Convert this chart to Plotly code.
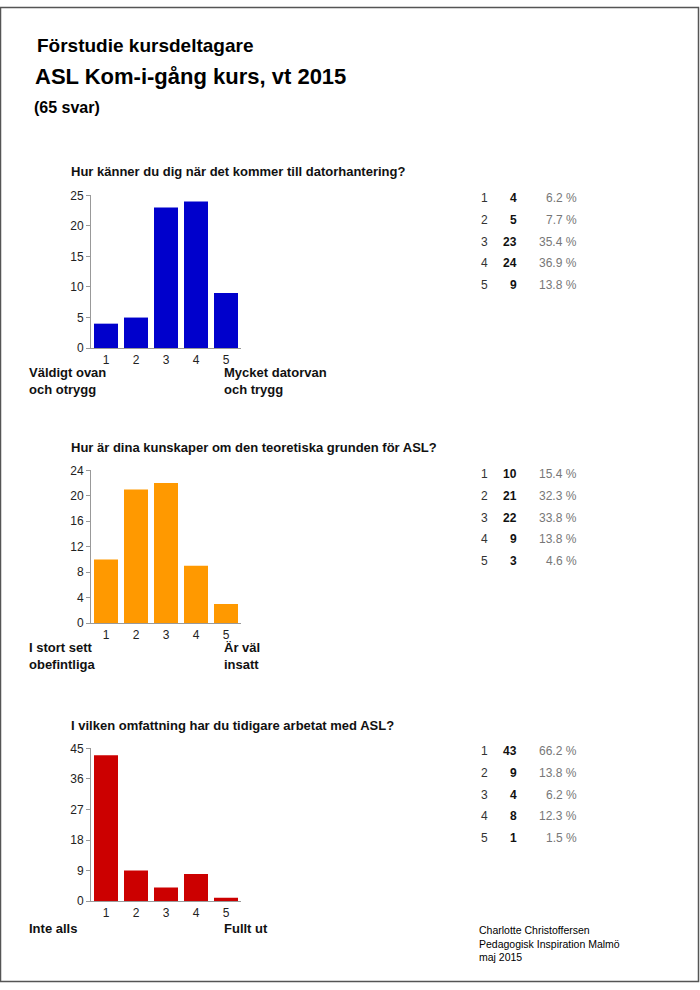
import plotly.graph_objects as go

W, H = 700, 990

categories = ["1", "2", "3", "4", "5"]
q1_values = [4, 5, 23, 24, 9]
q2_values = [10, 21, 22, 9, 3]
q3_values = [43, 9, 4, 8, 1]
total = 65

q1_pct = ["6.2 %", "7.7 %", "35.4 %", "36.9 %", "13.8 %"]
q2_pct = ["15.4 %", "32.3 %", "33.8 %", "13.8 %", "4.6 %"]
q3_pct = ["66.2 %", "13.8 %", "6.2 %", "12.3 %", "1.5 %"]

q1_title = "Hur känner du dig när det kommer till datorhantering?"
q2_title = "Hur är dina kunskaper om den teoretiska grunden för ASL?"
q3_title = "I vilken omfattning har du tidigare arbetat med ASL?"

q1_low, q1_high = "Väldigt ovan<br>och otrygg", "Mycket datorvan<br>och trygg"
q2_low, q2_high = "I stort sett<br>obefintliga", "Är väl<br>insatt"
q3_low, q3_high = "Inte alls", "Fullt ut"

q1_ticks = [0, 5, 10, 15, 20, 25]
q2_ticks = [0, 4, 8, 12, 16, 20, 24]
q3_ticks = [0, 9, 18, 27, 36, 45]

colors = ["#0000CC", "#FF9900", "#CC0000"]

FONT = "Liberation Sans, Arial, sans-serif"


def px(x):
    return x / W


def py(y):
    return 1 - y / H


fig = go.Figure()

charts = [
    dict(vals=q1_values, pct=q1_pct, title=q1_title, low=q1_low, high=q1_high, ticks=q1_ticks,
         bottom=346, top=191, ty=167, row0=194, laby=379),
    dict(vals=q2_values, pct=q2_pct, title=q2_title, low=q2_low, high=q2_high, ticks=q2_ticks,
         bottom=625, top=470, ty=447, row0=474, laby=658),
    dict(vals=q3_values, pct=q3_pct, title=q3_title, low=q3_low, high=q3_high, ticks=q3_ticks,
         bottom=907, top=752, ty=729, row0=755, laby=935),
]

annotations = []
layout_axes = {}
for i, c in enumerate(charts):
    n = i + 1
    xa = "x" if n == 1 else f"x{n}"
    ya = "y" if n == 1 else f"y{n}"
    fig.add_trace(go.Bar(
        x=categories, y=c["vals"], xaxis=xa, yaxis=ya,
        marker=dict(color=colors[i], line=dict(width=0)),
        width=0.8, showlegend=False, hoverinfo="x+y",
    ))
    xkey = "xaxis" if n == 1 else f"xaxis{n}"
    ykey = "yaxis" if n == 1 else f"yaxis{n}"
    layout_axes[xkey] = dict(
        domain=[px(91), px(241)], anchor=ya, type="category",
        range=[-0.5, 4.5], showline=True, linecolor="#999", linewidth=1,
        ticks="", tickfont=dict(family=FONT, size=12, color="#222"),
        showgrid=False, zeroline=False, fixedrange=True,
    )
    layout_axes[ykey] = dict(
        domain=[py(c["bottom"]), py(c["top"])], anchor=xa,
        range=[0, c["ticks"][-1]], tickvals=c["ticks"],
        showline=True, linecolor="#999", linewidth=1,
        ticks="outside", ticklen=4, tickcolor="#999",
        tickfont=dict(family=FONT, size=12, color="#222"),
        showgrid=False, zeroline=False, fixedrange=True,
    )
    annotations.append(dict(
        text=f"<b>{c['title']}</b>", x=px(69), y=py(c["ty"]), xref="paper", yref="paper",
        xanchor="left", yanchor="middle", showarrow=False,
        font=dict(family=FONT, size=13, color="#111"),
    ))
    annotations.append(dict(
        text=f"<b>{c['low']}</b>", x=px(27), y=py(c["laby"]), xref="paper", yref="paper",
        xanchor="left", yanchor="middle", showarrow=False, align="left",
        font=dict(family=FONT, size=13, color="#111"),
    ))
    annotations.append(dict(
        text=f"<b>{c['high']}</b>", x=px(222), y=py(c["laby"]), xref="paper", yref="paper",
        xanchor="left", yanchor="middle", showarrow=False, align="left",
        font=dict(family=FONT, size=13, color="#111"),
    ))
    for r, (cat, v, p) in enumerate(zip(categories, c["vals"], c["pct"])):
        yy = py(c["row0"] + 22 * r)
        annotations.append(dict(
            text=cat, x=px(479), y=yy, xref="paper", yref="paper",
            xanchor="left", yanchor="middle", showarrow=False,
            font=dict(family=FONT, size=12, color="#333"),
        ))
        annotations.append(dict(
            text=f"<b>{v}</b>", x=px(519), y=yy, xref="paper", yref="paper",
            xanchor="right", yanchor="middle", showarrow=False,
            font=dict(family=FONT, size=12, color="#111"),
        ))
        annotations.append(dict(
            text=p, x=px(579), y=yy, xref="paper", yref="paper",
            xanchor="right", yanchor="middle", showarrow=False,
            font=dict(family=FONT, size=12, color="#777"),
        ))

annotations += [
    dict(text="<b>Förstudie kursdeltagare</b>", x=px(35), y=py(39), xref="paper", yref="paper",
         xanchor="left", yanchor="middle", showarrow=False,
         font=dict(family=FONT, size=19, color="#000")),
    dict(text="<b>ASL Kom-i-gång kurs, vt 2015</b>", x=px(33), y=py(70), xref="paper", yref="paper",
         xanchor="left", yanchor="middle", showarrow=False,
         font=dict(family=FONT, size=22, color="#000")),
    dict(text=f"<b>({total} svar)</b>", x=px(32), y=py(102), xref="paper", yref="paper",
         xanchor="left", yanchor="middle", showarrow=False,
         font=dict(family=FONT, size=16, color="#000")),
    dict(text="Charlotte Christoffersen<br>Pedagogisk Inspiration Malmö<br>maj 2015",
         x=px(477), y=py(950), xref="paper", yref="paper",
         xanchor="left", yanchor="middle", showarrow=False, align="left",
         font=dict(family=FONT, size=10.5, color="#000")),
]

fig.update_layout(
    width=W, height=H, margin=dict(l=0, r=0, t=0, b=0),
    paper_bgcolor="white", plot_bgcolor="white",
    annotations=annotations, bargap=0.2,
    shapes=[dict(type="rect", xref="paper", yref="paper", x0=px(0.5), y0=py(988.5), x1=px(698.5), y1=py(0.5),
                 line=dict(color="#555", width=1.5))],
    **layout_axes,
)

fig.write_html("out.html", config={"displayModeBar": False})
